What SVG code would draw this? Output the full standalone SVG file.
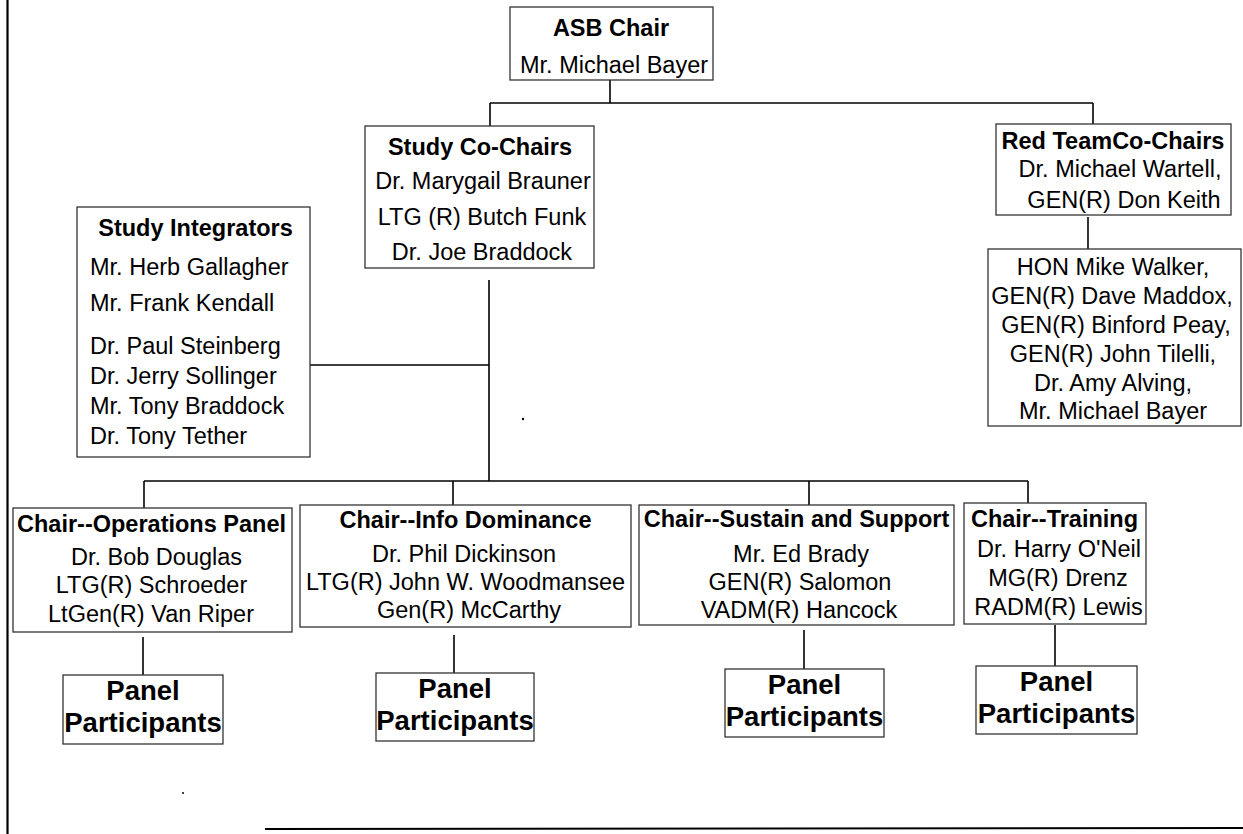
<svg xmlns="http://www.w3.org/2000/svg" width="1243" height="834" viewBox="0 0 1243 834">
  <style>
    .box { fill: #ffffff; stroke: #333333; stroke-width: 1.3; }
    .conn { fill: none; stroke: #000000; stroke-width: 1.6; }
    .frame { fill: none; stroke: #000000; stroke-width: 2.2; }
    text { font-family: "Liberation Sans", Arial, sans-serif; fill: #000000; }
    .t { font-size: 23.5px; }
    .h { font-size: 23.5px; font-weight: bold; }
    .p { font-size: 27.5px; font-weight: bold; }
    .c { text-anchor: middle; }
  </style>

  <rect width="1243" height="834" fill="#ffffff"/>

  <!-- page frame -->
  <line class="frame" x1="7.5" y1="0" x2="7.5" y2="834"/>
  <line class="frame" x1="265" y1="829" x2="1243" y2="828"/>
  <circle cx="183" cy="793" r="1" fill="#000"/>
  <circle cx="523" cy="419" r="1.2" fill="#000"/>

  <!-- connectors -->
  <g id="connectors">
    <path class="conn" d="M610 80 V103"/>
    <path class="conn" d="M490 103 H1093"/>
    <path class="conn" d="M490 103 V126"/>
    <path class="conn" d="M1093 103 V124"/>
    <path class="conn" d="M1088 217 V249"/>
    <path class="conn" d="M489 280 V481"/>
    <path class="conn" d="M310 365 H489"/>
    <path class="conn" d="M144 481 H1028"/>
    <path class="conn" d="M144 481 V508"/>
    <path class="conn" d="M453 481 V505"/>
    <path class="conn" d="M809 481 V505"/>
    <path class="conn" d="M1028 481 V503"/>
    <path class="conn" d="M143 637 V675"/>
    <path class="conn" d="M454 635 V673"/>
    <path class="conn" d="M804 630 V669"/>
    <path class="conn" d="M1055 625 V666"/>
  </g>

  <g id="asb-chair">
    <rect class="box" x="510" y="7" width="203" height="73"/>
    <text class="h c" x="611" y="36">ASB Chair</text>
    <text class="t c" x="614" y="72.5">Mr. Michael Bayer</text>
  </g>

  <g id="study-co-chairs">
    <rect class="box" x="365" y="126" width="229" height="142"/>
    <text class="h c" x="480" y="155">Study Co-Chairs</text>
    <text class="t c" x="483" y="189">Dr. Marygail Brauner</text>
    <text class="t c" x="482" y="225">LTG (R) Butch Funk</text>
    <text class="t c" x="482" y="260">Dr. Joe Braddock</text>
  </g>

  <g id="red-team-co-chairs">
    <rect class="box" x="996" y="124" width="235" height="91"/>
    <text class="h c" x="1113" y="149">Red TeamCo-Chairs</text>
    <text class="t c" x="1120" y="177">Dr. Michael Wartell,</text>
    <text class="t c" x="1124" y="208">GEN(R) Don Keith</text>
  </g>

  <g id="red-team-members">
    <rect class="box" x="988" y="249" width="253" height="177"/>
    <text class="t c" x="1113" y="275">HON Mike Walker,</text>
    <text class="t c" x="1112" y="304">GEN(R) Dave Maddox,</text>
    <text class="t c" x="1116" y="333">GEN(R) Binford Peay,</text>
    <text class="t c" x="1113" y="362">GEN(R) John Tilelli,</text>
    <text class="t c" x="1113" y="391">Dr. Amy Alving,</text>
    <text class="t c" x="1113" y="419">Mr. Michael Bayer</text>
  </g>

  <g id="study-integrators">
    <rect class="box" x="77" y="207" width="233" height="250"/>
    <text class="h c" x="195.5" y="236">Study Integrators</text>
    <text class="t" x="90" y="275">Mr. Herb Gallagher</text>
    <text class="t" x="90" y="311">Mr. Frank Kendall</text>
    <text class="t" x="90" y="354">Dr. Paul Steinberg</text>
    <text class="t" x="90" y="384">Dr. Jerry Sollinger</text>
    <text class="t" x="90" y="414">Mr. Tony Braddock</text>
    <text class="t" x="90" y="444">Dr. Tony Tether</text>
  </g>

  <g id="chair-operations">
    <rect class="box" x="13" y="508" width="279" height="124"/>
    <text class="h c" x="151.5" y="532">Chair--Operations Panel</text>
    <text class="t c" x="156.5" y="565">Dr. Bob Douglas</text>
    <text class="t c" x="151.5" y="593">LTG(R) Schroeder</text>
    <text class="t c" x="151" y="622">LtGen(R) Van Riper</text>
  </g>

  <g id="chair-info-dominance">
    <rect class="box" x="300" y="505" width="331" height="122"/>
    <text class="h c" x="465.5" y="528">Chair--Info Dominance</text>
    <text class="t c" x="464" y="562">Dr. Phil Dickinson</text>
    <text class="t c" x="465.5" y="590">LTG(R) John W. Woodmansee</text>
    <text class="t c" x="469" y="618">Gen(R) McCarthy</text>
  </g>

  <g id="chair-sustain-support">
    <rect class="box" x="639" y="505" width="315" height="120"/>
    <text class="h c" x="796.5" y="527">Chair--Sustain and Support</text>
    <text class="t c" x="801" y="562">Mr. Ed Brady</text>
    <text class="t c" x="800" y="590">GEN(R) Salomon</text>
    <text class="t c" x="799" y="618">VADM(R) Hancock</text>
  </g>

  <g id="chair-training">
    <rect class="box" x="964" y="503" width="182" height="121"/>
    <text class="h c" x="1054.5" y="527">Chair--Training</text>
    <text class="t c" x="1059" y="557">Dr. Harry O'Neil</text>
    <text class="t c" x="1058" y="586">MG(R) Drenz</text>
    <text class="t c" x="1058.5" y="615">RADM(R) Lewis</text>
  </g>

  <g id="panel-operations">
    <rect class="box" x="63" y="675" width="160" height="69"/>
    <text class="p c" x="143" y="700">Panel</text>
    <text class="p c" x="143" y="732">Participants</text>
  </g>

  <g id="panel-info">
    <rect class="box" x="376" y="673" width="158" height="68"/>
    <text class="p c" x="455" y="698">Panel</text>
    <text class="p c" x="455" y="730">Participants</text>
  </g>

  <g id="panel-sustain">
    <rect class="box" x="725" y="669" width="159" height="68"/>
    <text class="p c" x="804.5" y="694">Panel</text>
    <text class="p c" x="804.5" y="726">Participants</text>
  </g>

  <g id="panel-training">
    <rect class="box" x="976" y="666" width="161" height="68"/>
    <text class="p c" x="1056.5" y="691">Panel</text>
    <text class="p c" x="1056.5" y="723">Participants</text>
  </g>
</svg>
